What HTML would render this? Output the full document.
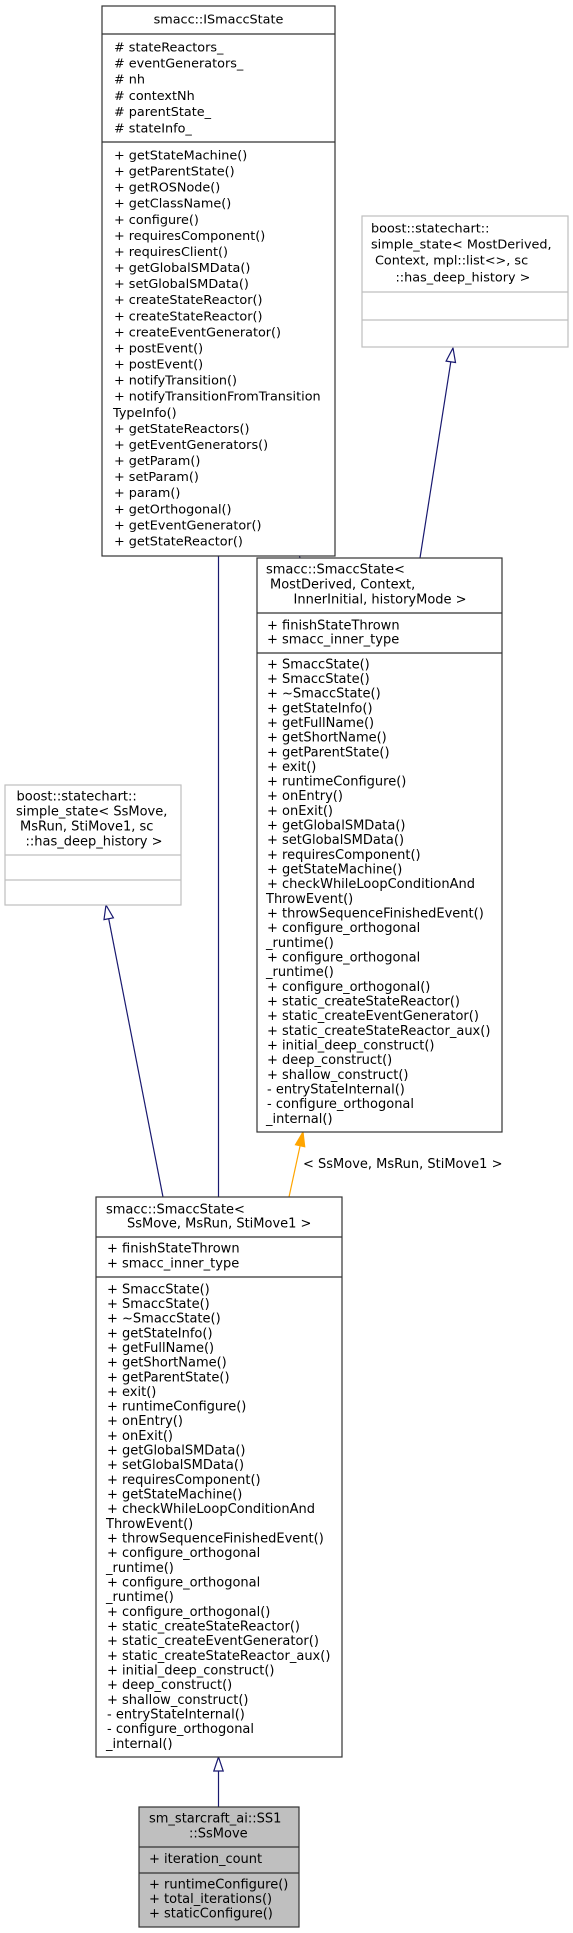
<!DOCTYPE html>
<html><head><meta charset="utf-8"><style>
html,body{margin:0;padding:0;background:#fff;}
svg{display:block;}
text{font-family:"DejaVu Sans","Liberation Sans",sans-serif;fill:#000;}
</style></head><body>
<svg width="573" height="1933" viewBox="0 0 573 1933" xmlns="http://www.w3.org/2000/svg">
<g stroke="#191970" stroke-width="1.2" fill="none">
<line x1="218.5" y1="521" x2="218.5" y2="1197"/>
<line x1="290.5" y1="520.6" x2="300" y2="558"/>
<line x1="450.8" y1="361.8" x2="420" y2="558"/>
<line x1="108.7" y1="918.7" x2="163" y2="1197"/>
<line x1="218.5" y1="1771" x2="218.5" y2="1807"/>
</g>
<line x1="300.1" y1="1145.7" x2="289" y2="1197" stroke="#ffa500" stroke-width="1.2"/>
<g stroke="#191970" stroke-width="1.2" fill="#fff">
<polygon points="218.5,507 213.8,521 223.2,521"/>
<polygon points="287,507 295.1,519.4 285.9,521.8"/>
<polygon points="453,348 455.5,362.5 446.1,361.1"/>
<polygon points="106,905 113.4,917.8 104,919.6"/>
<polygon points="218.5,1757 213.8,1771 223.2,1771"/>
</g>
<polygon points="303,1132 304.7,1146.7 295.5,1144.7" fill="#ffa500" stroke="#ffa500" stroke-width="1.2"/>
<text x="303" y="1168" font-size="13">&lt; SsMove, MsRun, StiMove1 &gt;</text>

<rect x="102" y="6" width="233" height="550" fill="#fff" stroke="#333" stroke-width="1.2"/>
<line x1="102" y1="34" x2="335" y2="34" stroke="#333" stroke-width="1.2"/>
<line x1="102" y1="142" x2="335" y2="142" stroke="#333" stroke-width="1.2"/>
<text x="218.5" y="23.5" font-size="12.8" text-anchor="middle">smacc::ISmaccState</text>
<text font-size="12.8">
<tspan x="114" y="51.3"># stateReactors_</tspan>
<tspan x="114" dy="16.2"># eventGenerators_</tspan>
<tspan x="114" dy="16.2"># nh</tspan>
<tspan x="114" dy="16.2"># contextNh</tspan>
<tspan x="114" dy="16.2"># parentState_</tspan>
<tspan x="114" dy="16.2"># stateInfo_</tspan>
</text>
<text font-size="12.8">
<tspan x="114" y="159.5">+ getStateMachine()</tspan>
<tspan x="114" dy="16.08">+ getParentState()</tspan>
<tspan x="114" dy="16.08">+ getROSNode()</tspan>
<tspan x="114" dy="16.08">+ getClassName()</tspan>
<tspan x="114" dy="16.08">+ configure()</tspan>
<tspan x="114" dy="16.08">+ requiresComponent()</tspan>
<tspan x="114" dy="16.08">+ requiresClient()</tspan>
<tspan x="114" dy="16.08">+ getGlobalSMData()</tspan>
<tspan x="114" dy="16.08">+ setGlobalSMData()</tspan>
<tspan x="114" dy="16.08">+ createStateReactor()</tspan>
<tspan x="114" dy="16.08">+ createStateReactor()</tspan>
<tspan x="114" dy="16.08">+ createEventGenerator()</tspan>
<tspan x="114" dy="16.08">+ postEvent()</tspan>
<tspan x="114" dy="16.08">+ postEvent()</tspan>
<tspan x="114" dy="16.08">+ notifyTransition()</tspan>
<tspan x="114" dy="16.08">+ notifyTransitionFromTransition</tspan>
<tspan x="113" dy="16.08">TypeInfo()</tspan>
<tspan x="114" dy="16.08">+ getStateReactors()</tspan>
<tspan x="114" dy="16.08">+ getEventGenerators()</tspan>
<tspan x="114" dy="16.08">+ getParam()</tspan>
<tspan x="114" dy="16.08">+ setParam()</tspan>
<tspan x="114" dy="16.08">+ param()</tspan>
<tspan x="114" dy="16.08">+ getOrthogonal()</tspan>
<tspan x="114" dy="16.08">+ getEventGenerator()</tspan>
<tspan x="114" dy="16.08">+ getStateReactor()</tspan>
</text>

<rect x="362" y="216" width="206" height="131" fill="#fff" stroke="#bfbfbf" stroke-width="1.2"/>
<line x1="362" y1="292" x2="568" y2="292" stroke="#bfbfbf" stroke-width="1.2"/>
<line x1="362" y1="320" x2="568" y2="320" stroke="#bfbfbf" stroke-width="1.2"/>
<text font-size="12.8">
<tspan x="371" y="232.3">boost::statechart::</tspan>
<tspan x="371" y="248.3">simple_state&lt; MostDerived,</tspan>
<tspan x="375" y="264.3">Context, mpl::list&lt;&gt;, sc</tspan>
<tspan x="395.5" y="281.3">::has_deep_history &gt;</tspan>
</text>

<rect x="257" y="558" width="245" height="574" fill="#fff" stroke="#333" stroke-width="1.2"/>
<line x1="257" y1="613" x2="502" y2="613" stroke="#333" stroke-width="1.2"/>
<line x1="257" y1="653" x2="502" y2="653" stroke="#333" stroke-width="1.2"/>
<text font-size="13">
<tspan x="266" y="573.3">smacc::SmaccState&lt;</tspan>
<tspan x="270" y="588.3">MostDerived, Context,</tspan>
<tspan x="293.5" y="603.3">InnerInitial, historyMode &gt;</tspan>
<tspan x="267" y="629.3">+ finishStateThrown</tspan>
<tspan x="267" y="643.3">+ smacc_inner_type</tspan>
</text>
<text font-size="13">
<tspan x="267" y="668.3">+ SmaccState()</tspan>
<tspan x="267" dy="14.66">+ SmaccState()</tspan>
<tspan x="267" dy="14.66">+ ~SmaccState()</tspan>
<tspan x="267" dy="14.66">+ getStateInfo()</tspan>
<tspan x="267" dy="14.66">+ getFullName()</tspan>
<tspan x="267" dy="14.66">+ getShortName()</tspan>
<tspan x="267" dy="14.66">+ getParentState()</tspan>
<tspan x="267" dy="14.66">+ exit()</tspan>
<tspan x="267" dy="14.66">+ runtimeConfigure()</tspan>
<tspan x="267" dy="14.66">+ onEntry()</tspan>
<tspan x="267" dy="14.66">+ onExit()</tspan>
<tspan x="267" dy="14.66">+ getGlobalSMData()</tspan>
<tspan x="267" dy="14.66">+ setGlobalSMData()</tspan>
<tspan x="267" dy="14.66">+ requiresComponent()</tspan>
<tspan x="267" dy="14.66">+ getStateMachine()</tspan>
<tspan x="267" dy="14.66">+ checkWhileLoopConditionAnd</tspan>
<tspan x="266" dy="14.66">ThrowEvent()</tspan>
<tspan x="267" dy="14.66">+ throwSequenceFinishedEvent()</tspan>
<tspan x="267" dy="14.66">+ configure_orthogonal</tspan>
<tspan x="266" dy="14.66">_runtime()</tspan>
<tspan x="267" dy="14.66">+ configure_orthogonal</tspan>
<tspan x="266" dy="14.66">_runtime()</tspan>
<tspan x="267" dy="14.66">+ configure_orthogonal()</tspan>
<tspan x="267" dy="14.66">+ static_createStateReactor()</tspan>
<tspan x="267" dy="14.66">+ static_createEventGenerator()</tspan>
<tspan x="267" dy="14.66">+ static_createStateReactor_aux()</tspan>
<tspan x="267" dy="14.66">+ initial_deep_construct()</tspan>
<tspan x="267" dy="14.66">+ deep_construct()</tspan>
<tspan x="267" dy="14.66">+ shallow_construct()</tspan>
<tspan x="267" dy="14.66">- entryStateInternal()</tspan>
<tspan x="267" dy="14.66">- configure_orthogonal</tspan>
<tspan x="266" dy="14.66">_internal()</tspan>
</text>

<rect x="5" y="785" width="176" height="120" fill="#fff" stroke="#bfbfbf" stroke-width="1.2"/>
<line x1="5" y1="855" x2="181" y2="855" stroke="#bfbfbf" stroke-width="1.2"/>
<line x1="5" y1="880" x2="181" y2="880" stroke="#bfbfbf" stroke-width="1.2"/>
<text font-size="13">
<tspan x="16.5" y="800.3">boost::statechart::</tspan>
<tspan x="16" y="815.3">simple_state&lt; SsMove,</tspan>
<tspan x="20" y="830.3">MsRun, StiMove1, sc</tspan>
<tspan x="25.5" y="845.3">::has_deep_history &gt;</tspan>
</text>

<rect x="96" y="1197" width="246" height="560" fill="#fff" stroke="#333" stroke-width="1.2"/>
<line x1="96" y1="1237" x2="342" y2="1237" stroke="#333" stroke-width="1.2"/>
<line x1="96" y1="1277" x2="342" y2="1277" stroke="#333" stroke-width="1.2"/>
<text font-size="13">
<tspan x="106" y="1213.3">smacc::SmaccState&lt;</tspan>
<tspan x="127" y="1227.3">SsMove, MsRun, StiMove1 &gt;</tspan>
<tspan x="107" y="1252.3">+ finishStateThrown</tspan>
<tspan x="107" y="1267.3">+ smacc_inner_type</tspan>
</text>
<text font-size="13">
<tspan x="107" y="1293.3">+ SmaccState()</tspan>
<tspan x="107" dy="14.66">+ SmaccState()</tspan>
<tspan x="107" dy="14.66">+ ~SmaccState()</tspan>
<tspan x="107" dy="14.66">+ getStateInfo()</tspan>
<tspan x="107" dy="14.66">+ getFullName()</tspan>
<tspan x="107" dy="14.66">+ getShortName()</tspan>
<tspan x="107" dy="14.66">+ getParentState()</tspan>
<tspan x="107" dy="14.66">+ exit()</tspan>
<tspan x="107" dy="14.66">+ runtimeConfigure()</tspan>
<tspan x="107" dy="14.66">+ onEntry()</tspan>
<tspan x="107" dy="14.66">+ onExit()</tspan>
<tspan x="107" dy="14.66">+ getGlobalSMData()</tspan>
<tspan x="107" dy="14.66">+ setGlobalSMData()</tspan>
<tspan x="107" dy="14.66">+ requiresComponent()</tspan>
<tspan x="107" dy="14.66">+ getStateMachine()</tspan>
<tspan x="107" dy="14.66">+ checkWhileLoopConditionAnd</tspan>
<tspan x="106" dy="14.66">ThrowEvent()</tspan>
<tspan x="107" dy="14.66">+ throwSequenceFinishedEvent()</tspan>
<tspan x="107" dy="14.66">+ configure_orthogonal</tspan>
<tspan x="106" dy="14.66">_runtime()</tspan>
<tspan x="107" dy="14.66">+ configure_orthogonal</tspan>
<tspan x="106" dy="14.66">_runtime()</tspan>
<tspan x="107" dy="14.66">+ configure_orthogonal()</tspan>
<tspan x="107" dy="14.66">+ static_createStateReactor()</tspan>
<tspan x="107" dy="14.66">+ static_createEventGenerator()</tspan>
<tspan x="107" dy="14.66">+ static_createStateReactor_aux()</tspan>
<tspan x="107" dy="14.66">+ initial_deep_construct()</tspan>
<tspan x="107" dy="14.66">+ deep_construct()</tspan>
<tspan x="107" dy="14.66">+ shallow_construct()</tspan>
<tspan x="107" dy="14.66">- entryStateInternal()</tspan>
<tspan x="107" dy="14.66">- configure_orthogonal</tspan>
<tspan x="106" dy="14.66">_internal()</tspan>
</text>

<rect x="139" y="1807" width="160" height="120" fill="#bfbfbf" stroke="#333" stroke-width="1.2"/>
<line x1="139" y1="1847" x2="299" y2="1847" stroke="#333" stroke-width="1.2"/>
<line x1="139" y1="1873" x2="299" y2="1873" stroke="#333" stroke-width="1.2"/>
<text font-size="13">
<tspan x="149" y="1822.3">sm_starcraft_ai::SS1</tspan>
<tspan x="189" y="1837.3">::SsMove</tspan>
<tspan x="149" y="1862.8">+ iteration_count</tspan>
<tspan x="149" y="1888.3">+ runtimeConfigure()</tspan>
<tspan x="149" y="1902.8">+ total_iterations()</tspan>
<tspan x="149" y="1917.3">+ staticConfigure()</tspan>
</text>
</svg>
</body></html>
